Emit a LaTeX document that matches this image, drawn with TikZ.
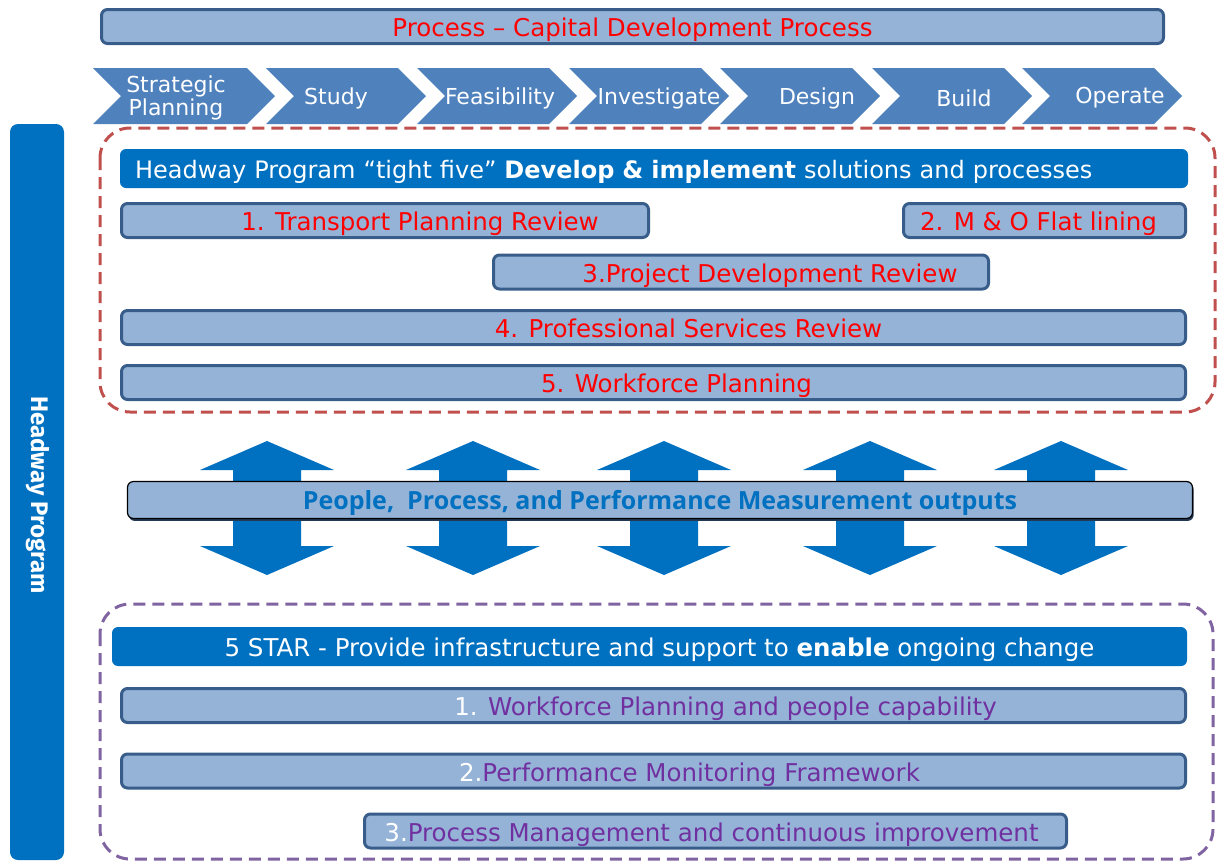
\documentclass[tikz,border=0pt]{standalone}
\usepackage{fontspec}
\setmainfont{DejaVu Sans}
\newfontfamily\firasans{Fira Sans}
\newfontfamily\opensans{Open Sans}
\usetikzlibrary{shadows}
\definecolor{lightbar}{HTML}{95B3D7}
\definecolor{barline}{HTML}{385D8A}
\definecolor{chevblue}{HTML}{4F81BD}
\definecolor{hwblue}{HTML}{0070C0}
\definecolor{reddash}{HTML}{C0504D}
\definecolor{purpdash}{HTML}{8064A2}
\definecolor{purptext}{HTML}{7030A0}
\definecolor{redtext}{HTML}{FF0000}
\tikzset{
  bar/.style={draw=barline, line width=1.5pt, fill=lightbar, rounded corners=3pt,
    minimum height=17pt, inner sep=0pt},
  header/.style={fill=hwblue, rounded corners=3pt, minimum height=19.5pt, inner sep=0pt,
    text=white, font=\fontsize{12.25}{14}\selectfont, text height=10pt, text depth=0pt},
  redlabel/.style={text=redtext, font=\fontsize{12.25}{14}\selectfont, inner sep=0pt,
    text height=10pt, text depth=0pt},
  purplabel/.style={text=purptext, font=\fontsize{12.25}{14}\selectfont, inner sep=0pt,
    text height=10pt, text depth=0pt},
  chevlabel/.style={text=white, font=\fontsize{11}{11.5}\selectfont, align=center, inner sep=0pt},
  dashbox/.style={line width=1.5pt, dash pattern=on 6pt off 3.5pt, rounded corners=15pt},
}
\begin{document}
\begin{tikzpicture}[x=0.5pt, y=-0.5pt]
\useasboundingbox (0,0) rectangle (1221,863);

\node[bar, minimum width=531pt, text=redtext, font=\fontsize{12.25}{14}\selectfont,
  text height=10pt, text depth=0pt]
  (cdp) at (632.5,26.5) {Process -- Capital Development Process};

\foreach \s/\t/\tx/\nm/\lab in {93/275/176/strat/{Strategic\\Planning},
    266/426/336/study/Study, 417/577/500/feas/Feasibility,
    569/729/659/invest/Investigate, 720/880/817/design/Design,
    872/1032/964/build/Build, 1022/1182/1120/operate/Operate}
{
  \fill[chevblue] (\s,68) -- (\t-28,68) -- (\t,96) -- (\t-28,124) -- (\s,124)
    -- (\s+28,96) -- cycle;
  \node[chevlabel] (\nm) at (\tx,98) {\lab};
}

\node[fill=hwblue, rounded corners=4pt, minimum width=27pt, minimum height=368pt]
  (hwbar) at (37,492) {};
\node[rotate=-90, text=white, font=\firasans\bfseries\fontsize{12}{14}\selectfont]
  (hwlabel) at (38,495) {Headway Program};

\draw[dashbox, draw=reddash] (100,128) rectangle (1215,412);
\node[header, font=\fontsize{12}{14}\selectfont, minimum width=534pt, text width=519pt,
  inner xsep=7.5pt, align=left]
  (tight) at (654,168.5) {Headway Program “tight five” \textbf{Develop \& implement} solutions and processes};
\node[bar, minimum width=263.5pt] (tpr) at (385,220.5) {};
\node[redlabel] (tprtext) at ([xshift=17.5pt]tpr) {1. Transport Planning Review};
\node[bar, minimum width=141pt] (mo) at (1044.5,220.5) {};
\node[redlabel] (motext) at ([xshift=-3pt]mo) {2. M \& O Flat lining};
\node[bar, minimum width=247.5pt] (pdr) at (741,272) {};
\node[redlabel] (pdrtext) at ([xshift=14.5pt]pdr) {3.Project Development Review};
\node[bar, minimum width=532pt] (psr) at (653.5,327.5) {};
\node[redlabel] (psrtext) at ([xshift=17.5pt]psr) {4. Professional Services Review};
\node[bar, minimum width=532pt] (wfp) at (653.5,382.5) {};
\node[redlabel] (wfptext) at ([xshift=11.5pt]wfp) {5. Workforce Planning};

\foreach \c in {267,473,664,870,1061}
  \fill[hwblue] (\c,441) -- (\c+67,470) -- (\c+34,470) -- (\c+34,546) -- (\c+67,546)
    -- (\c,575) -- (\c-67,546) -- (\c-34,546) -- (\c-34,470) -- (\c-67,470) -- cycle;
\node[draw=black, line width=0.6pt, fill=lightbar, rounded corners=3pt, minimum width=532.5pt,
  minimum height=18.5pt, general shadow={fill=barline!60!black, shadow xshift=0.6pt, shadow yshift=-1.2pt},
  text=hwblue, font=\opensans\bfseries\fontsize{12.5}{14}\selectfont, text height=9.5pt, text depth=0pt]
  (outputs) at (660,500) {People,\ \ Process, and Performance Measurement outputs};

\draw[dashbox, draw=purpdash] (100,604) rectangle (1213,859);
\node[header, minimum width=537.5pt] (star) at (649.5,646.5)
  {\hspace*{10pt}5 STAR - Provide infrastructure and support to \textbf{enable} ongoing change};
\node[bar, minimum width=532pt] (people) at (653.5,705.5) {};
\node[purplabel] (peopletext) at ([xshift=36pt]people)
  {\textcolor{white}{1.} Workforce Planning and people capability};
\node[bar, minimum width=532pt] (pmf) at (653.5,771) {};
\node[purplabel] (pmftext) at ([xshift=18pt]pmf)
  {\textcolor{white}{2.}Performance Monitoring Framework};
\node[bar, minimum width=351pt] (pmci) at (715.5,831) {};
\node[purplabel] (pmcitext) at ([xshift=-2pt]pmci)
  {\textcolor{white}{3.}Process Management and continuous improvement};
\end{tikzpicture}
\end{document}
